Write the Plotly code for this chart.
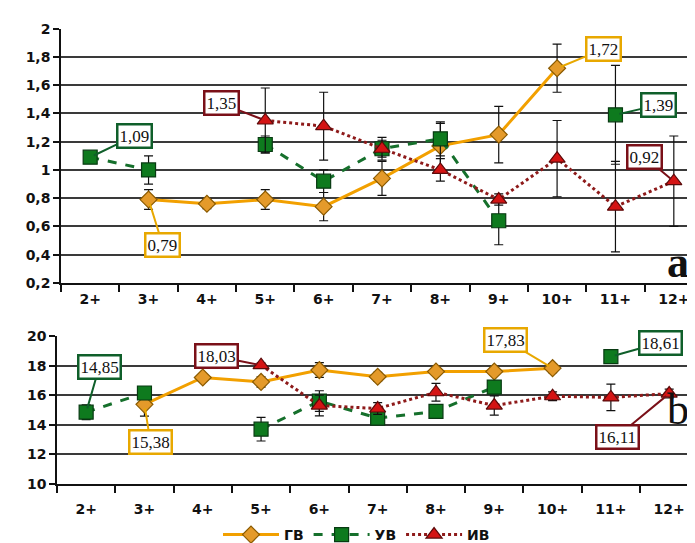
import plotly.graph_objects as go

W, H = 695, 543

cats = ["2+", "3+", "4+", "5+", "6+", "7+", "8+", "9+", "10+", "11+", "12+"]

# panel a
top_gv = [None, 0.79, 0.76, 0.79, 0.74, 0.94, 1.17, 1.25, 1.72, None, None]
top_gv_err = [0, 0.07, 0.035, 0.07, 0.10, 0.12, 0.16, 0.20, 0.17, 0, 0]
top_uv = [1.09, 1.00, None, 1.18, 0.92, 1.15, 1.22, 0.64, None, 1.39, None]
top_uv_err = [0, 0.10, 0, 0.06, 0.08, 0.08, 0.12, 0.17, 0, 0.35, 0]
top_iv = [None, None, None, 1.35, 1.31, 1.15, 1.00, 0.79, 1.08, 0.74, 0.92]
top_iv_err = [0, 0, 0, 0.23, 0.24, 0.06, 0.08, 0.04, 0.27, 0.32, 0.32]
top_ticks = [0.2, 0.4, 0.6, 0.8, 1.0, 1.2, 1.4, 1.6, 1.8, 2.0]
top_ticktext = ["0,2", "0,4", "0,6", "0,8", "1", "1,2", "1,4", "1,6", "1,8", "2"]

# panel b
bot_gv = [None, 15.38, 17.2, 16.9, 17.7, 17.25, 17.6, 17.6, 17.83, None, None]
bot_gv_err = [0, 0.8, 0.1, 0.35, 0.5, 0.3, 0.2, 0.2, 0.3, 0, 0]
bot_uv = [14.85, 16.15, None, 13.7, 15.6, 14.45, 14.9, 16.55, None, 18.61, None]
bot_uv_err = [0.5, 0, 0, 0.8, 0.7, 0.2, 0.2, 0.2, 0, 0, 0]
bot_iv = [None, None, None, 18.03, 15.3, 15.1, 16.2, 15.3, 15.93, 15.85, 16.11]
bot_iv_err = [0, 0, 0, 0.15, 0.7, 0.4, 0.6, 0.65, 0.3, 0.9, 0.3]
bot_ticks = [10, 12, 14, 16, 18, 20]

# callout labels: (series, category, value, text, ax, ay)
top_labels = [
    ("uv", "2+", 1.09, "1,09", 44, -21),
    ("iv", "5+", 1.35, "1,35", -44, -17),
    ("gv", "3+", 0.79, "0,79", 14, 45),
    ("gv", "10+", 1.72, "1,72", 46, -19),
    ("uv", "11+", 1.39, "1,39", 43, -10),
    ("iv", "12+", 0.92, "0,92", -29, -24),
]
bot_labels = [
    ("uv", "2+", 14.85, "14,85", 13, -45),
    ("gv", "3+", 15.38, "15,38", 6, 38),
    ("iv", "5+", 18.03, "18,03", -45, -9),
    ("gv", "10+", 17.83, "17,83", -47, -28),
    ("uv", "11+", 18.61, "18,61", 50, -14),
    ("iv", "12+", 16.11, "16,11", -52, 43),
]

names = {"gv": "ГВ", "uv": "УВ", "iv": "ИВ"}
line_col = {"gv": "#F2A000", "uv": "#16702C", "iv": "#8E1A1A"}
box_col = {"gv": "#E8A800", "uv": "#0F5F2A", "iv": "#7A1018"}
dash = {"gv": "solid", "uv": "dash", "iv": "dot"}
msym = {"gv": "diamond", "uv": "square", "iv": "triangle-up"}
mfill = {"gv": "#E49A2A", "uv": "#0E7A1E", "iv": "#D41414"}
mline = {"gv": "#8A5A00", "uv": "#083A12", "iv": "#5A0A0A"}
msize = {"gv": 13, "uv": 14, "iv": 14}

fig = go.Figure()

def add_series(key, vals, errs, xa, ya, legend):
    fig.add_trace(go.Scatter(
        x=cats, y=vals, name=names[key], xaxis=xa, yaxis=ya,
        mode="lines+markers", connectgaps=False, showlegend=legend,
        line=dict(color=line_col[key], width=3, dash=dash[key]),
        marker=dict(symbol=msym[key], size=msize[key], color=mfill[key],
                    line=dict(color=mline[key], width=1.2)),
        error_y=dict(type="data", array=errs, visible=True,
                     color="#111111", thickness=1.2, width=4.5),
    ))

add_series("gv", top_gv, top_gv_err, "x", "y", True)
add_series("uv", top_uv, top_uv_err, "x", "y", True)
add_series("iv", top_iv, top_iv_err, "x", "y", True)
add_series("gv", bot_gv, bot_gv_err, "x2", "y2", False)
add_series("uv", bot_uv, bot_uv_err, "x2", "y2", False)
add_series("iv", bot_iv, bot_iv_err, "x2", "y2", False)

tickfont = dict(family="DejaVu Sans", size=14, color="#111111", weight="bold")

def xaxis_cfg(domain, rng, anchor, standoff):
    return dict(domain=domain, range=rng, anchor=anchor, type="category",
                categoryorder="array", categoryarray=cats,
                showgrid=False, showline=True, linecolor="#111111", linewidth=1.5,
                ticks="outside", ticklen=7, tickcolor="#111111", tickwidth=1.5,
                tickson="boundaries", tickfont=tickfont, zeroline=False,
                automargin=False, ticklabelstandoff=standoff, fixedrange=True)

def yaxis_cfg(domain, rng, anchor, tv, tt):
    return dict(domain=domain, range=rng, anchor=anchor,
                tickvals=tv, ticktext=tt, showgrid=True, gridcolor="#3a3a3a",
                gridwidth=1.5, showline=True, linecolor="#111111", linewidth=1.5,
                ticks="outside", ticklen=6, tickcolor="#111111", tickwidth=1.5,
                tickfont=tickfont, zeroline=False, automargin=False, fixedrange=True)

fig.update_layout(
    width=W, height=H,
    margin=dict(l=0, r=0, t=0, b=0),
    paper_bgcolor="white", plot_bgcolor="white",
    xaxis=xaxis_cfg([53 / W, 1.0], [-0.5, 10.5], "y", 3),
    yaxis=yaxis_cfg([(H - 279) / H, (H - 21) / H], [0.2, 2.0], "x",
                    top_ticks, top_ticktext),
    xaxis2=xaxis_cfg([49 / W, 1.0], [-0.5, 10.58], "y2", 12),
    yaxis2=yaxis_cfg([(H - 483) / H, (H - 333) / H], [10, 20], "x2",
                     bot_ticks, [str(v) for v in bot_ticks]),
    legend=dict(orientation="h", x=210 / W, y=(H - 535) / H, xanchor="left",
                yanchor="middle", font=tickfont, itemwidth=56,
                bgcolor="rgba(0,0,0,0)", tracegroupgap=0),
    showlegend=True,
)

def add_labels(labels, xref, yref):
    for key, cat, val, txt, ax, ay in labels:
        fig.add_annotation(
            x=cat, y=val, xref=xref, yref=yref, text=txt,
            showarrow=True, arrowhead=0, arrowwidth=2, arrowcolor=box_col[key],
            ax=ax, ay=ay, standoff=4,
            font=dict(family="Liberation Serif", size=17, color="#111111"),
            bordercolor=box_col[key], borderwidth=2.5, borderpad=1,
            bgcolor="white",
        )

add_labels(top_labels, "x", "y")
add_labels(bot_labels, "x2", "y2")

fig.add_annotation(x=683 / W, y=(H - 258) / H, xref="paper", yref="paper",
                   text="a", showarrow=False,
                   font=dict(family="Liberation Serif", size=44, color="#111111",
                             weight="bold"))
fig.add_annotation(x=683 / W, y=(H - 434) / H, xref="paper", yref="paper",
                   text="b", showarrow=False,
                   font=dict(family="Liberation Serif", size=44, color="#111111"))

fig.write_html("out.html")
